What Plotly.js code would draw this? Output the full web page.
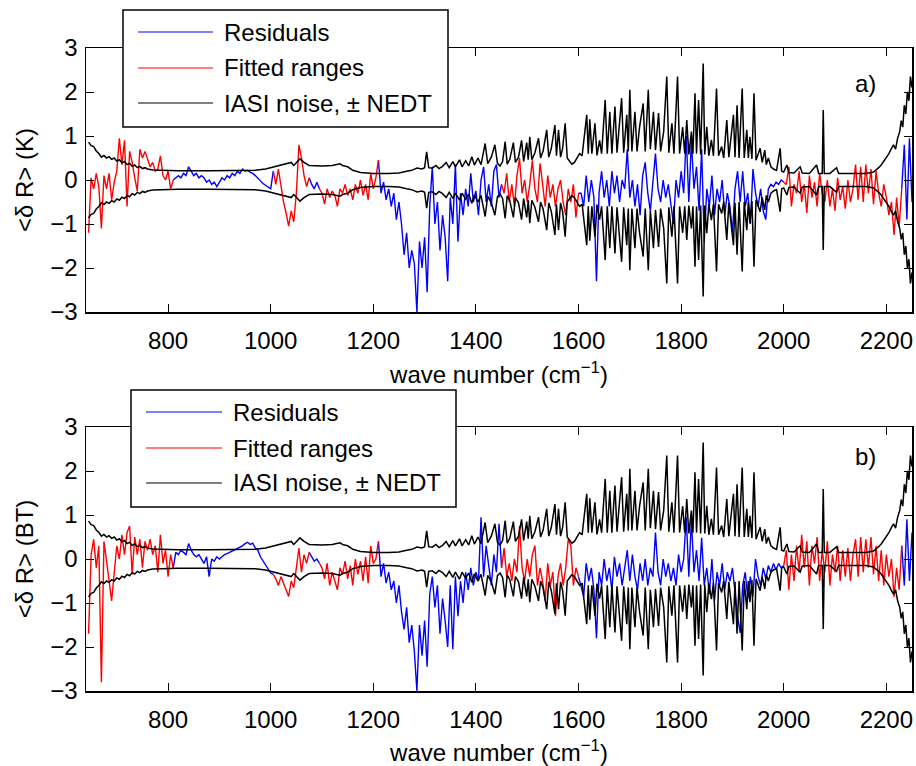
<!DOCTYPE html>
<html><head><meta charset="utf-8">
<script src="https://cdn.plot.ly/plotly-3.0.1.min.js"></script>
<style>html,body{margin:0;padding:0;background:#fff}#chart{width:916px;height:766px}</style>
</head><body><div id="chart"></div>
<script>
// ---- data -------------------------------------------------------------
const wnStart = 645, wnStep = 5;   // residual sampling (cm^-1)
// panel a) residuals <dR> (K), one value per 5 cm^-1, rows of 50 cm^-1
const residA = [
 -1.2, 0.05, -0.2, 0.15, -0.15, -1.1, 0.1, -0.2, 0.15, -0.45,
 -0.05, 0.2, 0.95, 0.35, 0.9, -0.6, 0.65, 0.4, 0.05, -0.25,
 0.7, 0.5, 0.65, 0.45, 0.3, 0.4, 0.2, 0.25, 0.55, 0.1,
 0.0, 0.2, -0.2, 0.0, 0.05, 0.1, 0.05, 0.15, 0.1, 0.3,
 0.2, 0.1, 0.15, 0.05, 0.1, 0.05, -0.05, 0.0, -0.1, -0.05,
 -0.15, -0.05, 0.05, 0.0, 0.1, 0.05, 0.15, 0.1, 0.2, 0.15,
 0.25, 0.2, 0.22, 0.18, 0.15, 0.1, 0.05, -0.02, -0.08, -0.12,
 -0.18, -0.2, 0.2, -0.1, 0.25, -0.15, -0.5, -0.75, -1.05, -0.7,
 -0.95, -0.3, 0.8, 0.5, 0.1, -0.15, 0.05, -0.1, -0.2, -0.05,
 -0.2, -0.3, -0.55, -0.2, -0.4, -0.25, -0.35, -0.6, -0.2, -0.3,
 -0.1, -0.35, -0.2, -0.45, -0.1, -0.3, 0.0, -0.35, -0.1, -0.45,
 0.15, -0.2, 0.05, 0.45, -0.3, -0.05, -0.45, -0.2, -0.6, -0.3,
 -0.9, -0.5, -1.0, -1.7, -1.2, -2.0, -1.6, -1.9, -3.0, -1.4,
 -2.0, -1.3, -2.55, -0.6, 0.3, -1.0, -0.5, -1.6, -0.8, -1.3,
 -2.3, -0.4, -1.0, 0.35, -1.4, -0.3, -0.8, -0.2, -0.6, 0.15,
 -0.5, -0.25, -0.8, 0.0, 0.3, -0.5, -0.1, -0.6, 0.2, 0.35,
 -0.4, -0.1, -0.3, 0.15, -0.5, -0.1, -0.6, 0.1, 0.5, -0.3,
 0.0, -0.5, -0.1, 0.45, -0.2, -0.5, 0.38, -0.1, -0.6, 0.1,
 -0.4, -0.1, -0.6, -0.2, 0.0, -0.5, -0.8, -0.2, -0.5, -0.1,
 -0.85, -0.3, -0.3, -0.6, 0.1, -0.5, 0.0, -0.4, -2.3, -0.3,
 0.2, -0.4, 0.0, -0.6, 0.2, -0.3, 0.1, -0.5, 0.0, -0.2,
 0.7, -0.4, 0.0, -0.6, -0.1, -0.8, 0.1, 0.4, -0.3, -0.7,
 0.0, 0.6, -0.2, -0.5, 0.0, -0.4, -0.1, -0.6, -1.0, 0.0,
 -0.4, 0.2, -0.3, 1.0, -0.5, 0.9, -0.2, 0.3, -0.7, 0.7,
 -1.4, -0.2, -0.6, 0.1, -0.8, -0.2, -0.5, 0.0, -0.8, -0.3,
 -0.6, -1.2, -0.2, 0.2, -0.5, 0.2, -0.6, -0.3, -1.0, 0.25,
 -0.3, -0.6, -0.2, -0.7, -0.9, -0.2, -0.1, -0.15, -0.05, -0.1,
 0.0, -0.05, -0.1, 0.3, -0.6, -0.1, -0.3, 0.2, -0.5, -0.1,
 -0.75, 0.1, -0.4, -0.05, -0.6, 0.15, -0.3, -0.5, 0.0, -0.6,
 -0.2, -0.7, 0.05, -0.45, -0.15, -0.65, 0.0, -0.5, -0.2, 0.35,
 -0.45, 0.3, -0.5, 0.35, -0.3, 0.25, -0.55, 0.2, -0.3, -0.6,
 -0.1, -0.4, -0.8, -0.5, -1.25, -0.4, -1.05, -0.2, 0.8, -0.9,
 0.95, -0.5
];
// panel b) residuals <dR> (BT)
const residB = [
 -1.7, 0.1, 0.45, -0.2, 0.3, -2.8, 0.4, 0.0, -0.5, -0.95,
 -0.3, 0.3, 0.0, 0.55, 0.1, 0.6, 0.75, -0.35, 0.5, 0.1,
 0.45, -0.2, 0.4, 0.2, 0.45, 0.1, 0.3, -0.3, 0.55, -0.1,
 0.2, -0.4, 0.1, -0.2, 0.15, 0.1, 0.2, 0.15, 0.1, 0.35,
 0.2, 0.1, 0.05, 0.1, 0.0, -0.1, 0.05, -0.4, 0.0, -0.05,
 0.05, 0.0, 0.05, 0.1, 0.12, 0.15, 0.18, 0.22, 0.25, 0.28,
 0.3, 0.35, 0.38, 0.33, 0.36, 0.25, 0.2, 0.05, -0.05, -0.15,
 -0.25, -0.32, -0.35, -0.45, -0.6, -0.4, -0.55, -0.7, -0.85, -0.5,
 -0.65, -0.2, 0.25, -0.3, 0.1, -0.1, 0.15, 0.05, -0.05, 0.0,
 -0.1, -0.2, -0.45, -0.1, -0.6, -0.3, -0.5, -0.7, -0.2, -0.35,
 -0.05, -0.45, -0.15, -0.6, 0.0, -0.35, -0.05, -0.5, 0.05, -0.55,
 0.3, -0.1, 0.0, 0.4, -0.4, -0.1, -0.55, -0.3, -0.7, -0.5,
 -1.0, -0.6, -1.2, -1.6, -1.1, -1.9, -1.5, -2.1, -3.0, -1.5,
 -2.2, -1.4, -2.45, -0.8, -0.4, -1.1, -0.6, -1.7, -0.9, -1.4,
 -2.0, -0.6, -2.05, -0.4, -1.3, -0.5, -1.0, -0.3, -0.7, -0.2,
 -0.6, -0.3, -0.5, 0.95, -0.4, 0.3, -0.2, -0.6, 0.1, -0.3,
 0.8, -0.2, 0.25, -0.4, -0.1, -0.5, 0.0, -0.3, 0.75, -0.2,
 -0.5, 0.0, -0.4, 0.1, 0.3, -0.6, -0.2, -0.5, -0.95, -0.1,
 -0.6, -0.3, -1.3, -0.4, -0.1, -0.6, -0.2, 0.45, 0.3, -0.6,
 -0.2, -0.4, -0.6, -0.85, -0.1, -0.5, -0.2, -0.7, -1.8, -0.3,
 -0.6, 0.0, -0.5, -0.2, -0.7, 0.05, -0.4, -0.1, -0.6, -0.2,
 0.2, -0.5, 0.1, -0.4, -0.7, -0.1, -0.5, 0.0, -0.6, -0.2,
 -0.4, 0.6, -0.3, -0.6, 0.0, -0.4, -0.1, -0.5, -0.2, -0.6,
 0.1, -0.3, 0.0, 0.95, -0.4, 0.9, -0.3, 0.2, -0.5, 0.48,
 -0.6, -0.2, -0.8, 0.0, -0.95, -0.3, -0.6, -0.1, -0.7, -0.3,
 -0.5, -0.2, -0.8, -1.3, -1.68, -0.6, -0.3, -0.9, -0.4, -0.85,
 0.0, -0.4, -0.6, -0.2, -0.45, -0.15, -0.3, -0.1, -0.25, -0.1,
 -0.2, -0.15, 0.2, -0.7, 0.1, -0.5, 0.3, -0.3, 0.55, -0.2,
 0.4, -0.6, 0.3, -0.1, 0.5, -0.5, 0.2, -0.3, 0.4, -0.6,
 0.1, -0.3, 0.3, -0.5, 0.2, -0.4, 0.25, -0.5, 0.1, 0.45,
 -0.4, 0.5, -0.3, 0.45, -0.2, 0.5, -0.35, 0.3, -0.5, 0.2,
 -0.6, 0.1, -0.4, 0.0, -0.86, -0.2, -0.7, 0.3, -0.6, 0.9,
 -0.5, 0.6
];
// spectral windows used in the fit (cm^-1)
const fittedRanges = [[645, 810], [1005, 1075], [1095, 1210], [1450, 1600], [2000, 2230]];
// IASI noise (NEDT, K) – plotted as +NEDT and -NEDT
const nedtWn = [
 645, 650, 655, 660, 665, 670, 675, 680, 685, 690,
 695, 700, 705, 710, 715, 720, 725, 730, 735, 740,
 745, 750, 755, 760, 770, 790, 820, 880, 940, 970,
 990, 1010, 1030, 1040, 1045, 1050, 1057, 1065, 1075, 1100,
 1120, 1135, 1140, 1150, 1160, 1175, 1200, 1230, 1250, 1265,
 1275, 1285, 1295, 1300, 1304, 1308, 1315, 1322, 1328, 1335,
 1342, 1348, 1355, 1360, 1368, 1373, 1380, 1386, 1392, 1397,
 1404, 1410, 1418, 1423, 1430, 1437, 1442, 1447, 1452, 1457,
 1461, 1466, 1473, 1477, 1483, 1489, 1493, 1499, 1502, 1505,
 1509, 1515, 1522, 1526, 1531, 1538, 1542, 1547, 1554, 1557,
 1561, 1565, 1569, 1574, 1578, 1583, 1587, 1592, 1597, 1602,
 1607, 1611, 1616, 1619, 1622, 1626, 1632, 1636, 1641, 1645,
 1652, 1656, 1661, 1665, 1671, 1675, 1679, 1684, 1688, 1694,
 1697, 1700, 1704, 1710, 1714, 1719, 1726, 1730, 1736, 1740,
 1746, 1750, 1756, 1760, 1766, 1772, 1776, 1782, 1786, 1793,
 1797, 1803, 1807, 1811, 1815, 1820, 1823, 1827, 1830, 1834,
 1838, 1843, 1846, 1850, 1854, 1859, 1863, 1869, 1873, 1879,
 1883, 1889, 1893, 1897, 1902, 1905, 1909, 1913, 1919, 1923,
 1928, 1931, 1934, 1938, 1942, 1946, 1950, 1954, 1958, 1963,
 1966, 1970, 1975, 1980, 1986, 1993, 1996, 2000, 2006, 2010,
 2020, 2032, 2036, 2050, 2064, 2068, 2075, 2077, 2079, 2090,
 2103, 2107, 2130, 2160, 2175, 2180, 2185, 2190, 2195, 2200,
 2205, 2210, 2214, 2218, 2222, 2226, 2229, 2232, 2235, 2238,
 2241, 2244, 2247, 2250
];
const nedtVal = [
 0.86, 0.78, 0.76, 0.66, 0.6, 0.52, 0.56, 0.5, 0.53, 0.47,
 0.5, 0.43, 0.46, 0.39, 0.42, 0.35, 0.38, 0.31, 0.34, 0.28,
 0.31, 0.26, 0.28, 0.25, 0.23, 0.22, 0.21, 0.21, 0.21, 0.22,
 0.25, 0.31, 0.37, 0.4, 0.33, 0.4, 0.48, 0.4, 0.33, 0.32,
 0.33, 0.37, 0.33, 0.3, 0.22, 0.17, 0.15, 0.15, 0.16, 0.2,
 0.22, 0.27, 0.25, 0.28, 0.64, 0.28, 0.27, 0.33, 0.26, 0.31,
 0.4, 0.28, 0.42, 0.3, 0.46, 0.3, 0.44, 0.32, 0.53, 0.34,
 0.5, 0.35, 0.83, 0.37, 0.52, 0.8, 0.38, 0.32, 0.42, 0.87,
 0.36, 0.47, 0.85, 0.4, 0.52, 0.9, 0.42, 0.85, 0.46, 0.98,
 0.46, 0.62, 0.95, 0.5, 0.66, 1.14, 0.52, 0.72, 1.25, 0.55,
 1.14, 0.52, 0.72, 1.29, 0.5, 0.42, 0.36, 0.4, 0.5, 0.6,
 0.55, 1.0, 1.48, 0.6, 1.38, 0.6, 1.29, 0.56, 0.9, 0.6,
 1.82, 0.6, 1.55, 0.6, 1.67, 0.62, 1.1, 1.86, 0.62, 1.48,
 0.65, 2.05, 0.65, 1.55, 0.65, 1.2, 1.74, 0.65, 2.05, 0.7,
 1.55, 0.68, 1.52, 0.65, 1.1, 2.35, 0.62, 1.29, 0.6, 2.35,
 0.6, 1.2, 0.6, 1.36, 0.58, 1.1, 0.6, 1.97, 0.6, 1.82,
 0.58, 2.65, 0.58, 1.21, 0.55, 0.91, 0.55, 2.08, 0.55, 0.76,
 0.5, 1.36, 0.52, 0.9, 1.48, 0.52, 1.7, 0.5, 2.08, 0.5,
 1.14, 0.5, 0.98, 0.48, 1.97, 0.45, 0.6, 0.72, 0.4, 0.68,
 0.35, 0.5, 0.3, 0.25, 0.22, 0.72, 0.2, 0.18, 0.34, 0.17,
 0.16, 0.3, 0.16, 0.15, 0.34, 0.15, 0.15, 1.59, 0.15, 0.15,
 0.28, 0.15, 0.15, 0.15, 0.18, 0.22, 0.28, 0.34, 0.42, 0.5,
 0.6, 0.72, 0.8, 0.7, 0.95, 1.1, 1.35, 1.2, 1.7, 1.5,
 2.0, 1.8, 2.35, 2.1
];
const xTicks = [800, 1000, 1200, 1400, 1600, 1800, 2000, 2200];
const yTicks = [-3, -2, -1, 0, 1, 2, 3];
const legendLabels = ['Residuals', 'Fitted ranges', 'IASI noise, \u00b1 NEDT'];
const panelLabels = ['a)', 'b)'];
const yTitles = ['<\u03b4 R> (K)', '<\u03b4 R> (BT)'];

// ---- build ------------------------------------------------------------
const W = 916, H = 766, M = {l: 86, r: 4, t: 48, b: 75};
const px2x = p => (p - M.l) / (W - M.l - M.r);
const px2y = p => (H - M.b - p) / (H - M.t - M.b);
const wn = residA.map((_, i) => wnStart + wnStep * i);
const inFitted = w => fittedRanges.some(r => w >= r[0] && w <= r[1]);
const strictlyFitted = w => fittedRanges.some(r => w > r[0] && w < r[1]);
const maskIn = arr => arr.map((v, i) => inFitted(wn[i]) ? v : null);
const maskOut = arr => arr.map((v, i) => strictlyFitted(wn[i]) ? null : v);
const nedtNeg = nedtVal.map(v => -v);
const BLUE = '#0000ff', RED = '#ff0000', BLACK = '#000000';
const FONT = 'Liberation Sans, Arial, Helvetica, sans-serif';
const FS = 24;

function panelTraces(resid, xa, ya) {
  return [
    {x: wn, y: maskOut(resid), xaxis: xa, yaxis: ya, mode: 'lines', connectgaps: false, line: {color: BLUE, width: 1.4}, hoverinfo: 'skip'},
    {x: wn, y: maskIn(resid), xaxis: xa, yaxis: ya, mode: 'lines', connectgaps: false, line: {color: RED, width: 1.4}, hoverinfo: 'skip'},
    {x: nedtWn, y: nedtVal, xaxis: xa, yaxis: ya, mode: 'lines', line: {color: BLACK, width: 1.5}, hoverinfo: 'skip'},
    {x: nedtWn, y: nedtNeg, xaxis: xa, yaxis: ya, mode: 'lines', line: {color: BLACK, width: 1.5}, hoverinfo: 'skip'}
  ];
}
const data = panelTraces(residA, 'x', 'y').concat(panelTraces(residB, 'x2', 'y2'));

function xAxis(anchor) {
  return {anchor: anchor, domain: [0, 1], range: [640, 2250], tickmode: 'array', tickvals: xTicks,
    ticks: 'inside', ticklen: 8, tickwidth: 1, tickcolor: BLACK, showline: true, linecolor: BLACK, linewidth: 1.5,
    mirror: 'ticks', showgrid: false, zeroline: false, tickfont: {size: FS, color: BLACK}, ticklabelstandoff: 7,
    title: {text: 'wave number (cm<sup>\u22121</sup>)', font: {size: FS, color: BLACK}, standoff: 13}};
}
function yAxis(anchor, domain, title) {
  return {anchor: anchor, domain: domain, range: [-3, 3], tickmode: 'array', tickvals: yTicks,
    ticks: 'inside', ticklen: 8, tickwidth: 1, tickcolor: BLACK, showline: true, linecolor: BLACK, linewidth: 1.5,
    mirror: 'ticks', showgrid: false, zeroline: false, tickfont: {size: FS, color: BLACK}, ticklabelstandoff: 2,
    title: {text: title, font: {size: FS, color: BLACK}, standoff: 10}};
}

// legend drawn as box + sample lines + labels (pixel positions of the figure)
const legendBoxes = [{x0: 123, x1: 448, y0: 10, y1: 127, lx0: 138, lx1: 213, tx: 222, rows: [32, 68, 103]},
                     {x0: 131, x1: 456, y0: 390, y1: 507, lx0: 146, lx1: 222, tx: 231, rows: [412, 448, 483]}];
const legendColors = [BLUE, RED, BLACK];
const shapes = [], annotations = [];
legendBoxes.forEach(b => {
  shapes.push({type: 'rect', xref: 'paper', yref: 'paper', layer: 'above', x0: px2x(b.x0), x1: px2x(b.x1),
    y0: px2y(b.y1), y1: px2y(b.y0), fillcolor: '#ffffff', line: {color: BLACK, width: 1.5}});
  b.rows.forEach((r, k) => {
    shapes.push({type: 'line', xref: 'paper', yref: 'paper', layer: 'above', x0: px2x(b.lx0), x1: px2x(b.lx1),
      y0: px2y(r), y1: px2y(r), line: {color: legendColors[k], width: 1.2}});
    annotations.push({xref: 'paper', yref: 'paper', x: px2x(b.tx), y: px2y(r), xanchor: 'left', yanchor: 'middle',
      text: legendLabels[k], showarrow: false, font: {size: FS, color: BLACK}});
  });
});
[[853, 83], [853, 457]].forEach((p, k) => {
  annotations.push({xref: 'paper', yref: 'paper', x: px2x(p[0]), y: px2y(p[1]), xanchor: 'left', yanchor: 'middle',
    text: panelLabels[k], showarrow: false, font: {size: FS, color: BLACK}});
});

const layout = {
  width: W, height: H, margin: M, paper_bgcolor: '#ffffff', plot_bgcolor: '#ffffff',
  font: {family: FONT, size: FS, color: BLACK}, showlegend: false,
  xaxis: xAxis('y'), yaxis: yAxis('x', [px2y(312), px2y(48)], yTitles[0]),
  xaxis2: xAxis('y2'), yaxis2: yAxis('x2', [px2y(691), px2y(427)], yTitles[1]),
  shapes: shapes, annotations: annotations
};
Plotly.newPlot('chart', data, layout, {staticPlot: true, displayModeBar: false});
</script></body></html>
